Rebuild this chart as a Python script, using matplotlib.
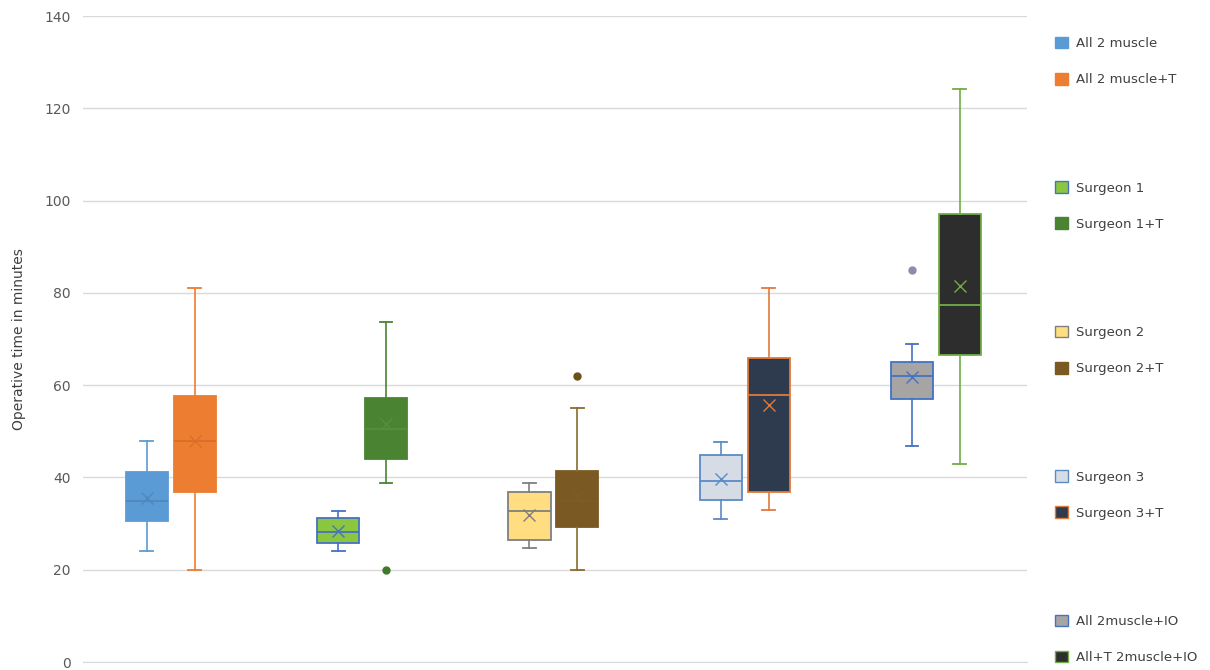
import matplotlib
matplotlib.use('Agg')
from matplotlib import pyplot as plt
from matplotlib.patches import Patch

labels = ['All 2 muscle', 'All 2 muscle+T', 'Surgeon 1', 'Surgeon 1+T',
          'Surgeon 2', 'Surgeon 2+T', 'Surgeon 3', 'Surgeon 3+T',
          'All 2muscle+IO', 'All+T 2muscle+IO']
whislo = [24, 20, 24, 38.7, 24.8, 20, 30.9, 32.9, 46.9, 42.9]
q1 = [30.6, 36.8, 25.7, 44.1, 26.4, 29.3, 35.1, 36.8, 56.9, 66.5]
med = [34.9, 47.9, 28.1, 50.5, 32.8, 35.0, 39.3, 57.9, 62.0, 77.4]
q3 = [41.2, 57.6, 31.3, 57.3, 36.8, 41.4, 44.9, 65.9, 65.0, 97.1]
whishi = [48, 81, 32.8, 73.8, 38.7, 55, 47.7, 81, 68.9, 124.1]
means = [35.5, 48.0, 28.5, 51.5, 31.9, 36.0, 39.7, 55.7, 61.8, 81.5]
fliers = [[], [], [], [20], [], [62], [], [], [85], []]

# slot positions: pairs with two empty slots between them
slots = [0, 1, 4, 5, 8, 9, 12, 13, 16, 17]

fills = ['#5b9bd5', '#ed7d31', '#8cc63f', '#4a8432', '#ffdd80',
         '#7a5a22', '#d6dce5', '#2e3a4e', '#a7a4a4', '#2d2d2d']
edges = ['#5b9bd5', '#ed7d31', '#4472c4', '#4a8432', '#7f7f7f',
         '#7a5a22', '#5b8bc5', '#e07a3a', '#4472c4', '#70ad47']
whisk = ['#5b9bd5', '#ed7d31', '#4472c4', '#4a8432', '#7f7f7f',
         '#8a6a30', '#5b8bc5', '#e07a3a', '#4472c4', '#70ad47']
inner = ['#4f86bd', '#d96f28', '#4472c4', '#55903b', '#7f7f7f',
         '#7d5d25', '#5b8bc5', '#e07a3a', '#4472c4', '#70ad47']
flier_cols = ['#5b9bd5', '#ed7d31', '#4472c4', '#3f7a2a', '#7f7f7f',
              '#6b5018', '#5b8bc5', '#e07a3a', '#8c8cab', '#70ad47']

fig = plt.figure(figsize=(12.1, 6.7), dpi=100)
ax = fig.add_axes([0.0686, 0.0119, 0.780, 0.9641])

for i in range(len(labels)):
    st = {'med': med[i], 'q1': q1[i], 'q3': q3[i], 'whislo': whislo[i],
          'whishi': whishi[i], 'mean': means[i], 'fliers': fliers[i]}
    ax.bxp([st], positions=[slots[i]], widths=0.88, patch_artist=True,
           showmeans=True, zorder=3,
           boxprops=dict(facecolor=fills[i], edgecolor=edges[i], linewidth=1.3),
           medianprops=dict(color=inner[i], linewidth=1.3),
           whiskerprops=dict(color=whisk[i], linewidth=1.2),
           capprops=dict(color=whisk[i], linewidth=1.3),
           capwidths=0.27,
           meanprops=dict(marker='x', markeredgecolor=inner[i],
                          markersize=9, markeredgewidth=1.0),
           flierprops=dict(marker='o', markerfacecolor=flier_cols[i],
                           markeredgecolor=flier_cols[i], markersize=5))

ax.set_xlim(-1.336, 18.4)
ax.set_ylim(0, 140)
ax.set_yticks(range(0, 141, 20))
ax.set_xticks([])
ax.grid(axis='y', color='#d9d9d9', linewidth=1, zorder=0)
ax.set_axisbelow(True)
for s in ['top', 'right', 'left']:
    ax.spines[s].set_visible(False)
ax.spines['bottom'].set_color('#d9d9d9')
ax.tick_params(axis='y', length=0, labelsize=10, labelcolor='#595959', pad=9)
ax.set_ylabel('Operative time in minutes', fontsize=10, color='#404040', labelpad=13)

handles = []
names = []
for i in range(len(labels)):
    handles.append(Patch(facecolor=fills[i], edgecolor=edges[i], linewidth=1))
    names.append(labels[i])
    if i % 2 == 1 and i < len(labels) - 1:
        for _ in range(2):
            handles.append(Patch(facecolor='none', edgecolor='none'))
            names.append('')

fig.legend(handles, names, loc='upper left', bbox_to_anchor=(0.862, 0.963),
           frameon=False, fontsize=9.5, labelspacing=1.72, handlelength=1.0,
           handleheight=1.0, handletextpad=0.6, labelcolor='#404040')

fig.savefig('out.png', dpi=100)
